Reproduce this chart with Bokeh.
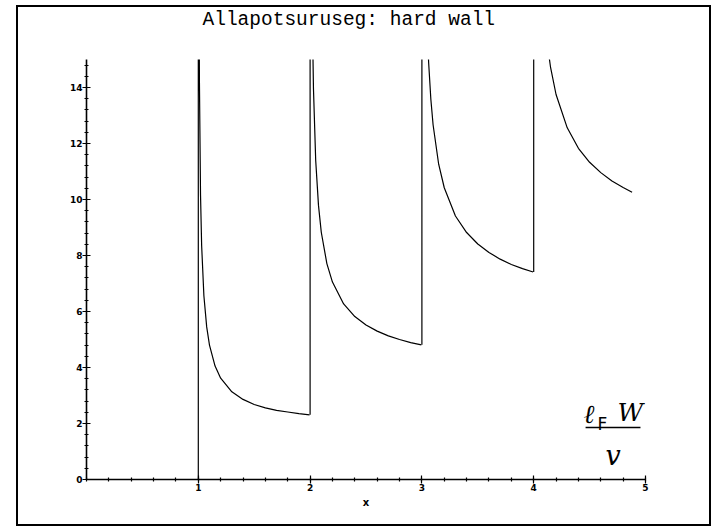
from bokeh.plotting import figure
from bokeh.models import Range1d, FixedTicker, SingleIntervalTicker, Label, BoxAnnotation, Title
from bokeh.embed import file_html
from bokeh.resources import INLINE

# ---- data ----
title_text = "Allapotsuruseg: hard wall"
x_label = "x"
x_tick_values = [1, 2, 3, 4, 5]
y_tick_interval = 2

# each branch starts with the vertical jump at the threshold
x_branch1 = [1.0, 1.0, 1.005, 1.01, 1.02, 1.03, 1.05, 1.075, 1.1, 1.15, 1.2, 1.3, 1.4, 1.5, 1.6, 1.7, 1.8, 1.9, 1.995]
y_branch1 = [0.0, 40.0, 20.08, 14.25, 10.15, 8.35, 6.56, 5.45, 4.80, 4.05, 3.62, 3.13, 2.86, 2.68, 2.56, 2.47, 2.41, 2.35, 2.31]

x_branch2 = [2.0, 2.0, 2.01, 2.02, 2.03, 2.05, 2.075, 2.1, 2.15, 2.2, 2.3, 2.4, 2.5, 2.6, 2.7, 2.8, 2.9, 2.995]
y_branch2 = [2.31, 40.0, 22.38, 16.55, 13.97, 11.40, 9.79, 8.83, 7.71, 7.05, 6.27, 5.82, 5.52, 5.30, 5.13, 5.00, 4.89, 4.81]

x_branch3 = [3.0, 3.0, 3.01, 3.02, 3.04, 3.06, 3.08, 3.1, 3.15, 3.2, 3.3, 3.4, 3.5, 3.6, 3.7, 3.8, 3.9, 3.995]
y_branch3 = [4.81, 40.0, 29.35, 22.20, 17.14, 14.91, 13.58, 12.67, 11.26, 10.42, 9.41, 8.82, 8.41, 8.11, 7.87, 7.68, 7.53, 7.41]

x_branch4 = [4.0, 4.0, 4.1, 4.12, 4.15, 4.2, 4.3, 4.4, 4.5, 4.6, 4.7, 4.8, 4.88]
y_branch4 = [7.41, 40.0, 16.40, 15.61, 14.74, 13.75, 12.56, 11.83, 11.33, 10.96, 10.66, 10.43, 10.26]

branches = [(x_branch1, y_branch1), (x_branch2, y_branch2), (x_branch3, y_branch3), (x_branch4, y_branch4)]

# ---- figure ----
p = figure(width=691, height=517, output_backend="svg", toolbar_location=None,
           x_range=Range1d(0, 5), y_range=Range1d(0, 15),
           min_border_left=68, min_border_right=64, min_border_top=52, min_border_bottom=45,
           background_fill_color="white", border_fill_color="white")
p.margin = (7, 0, 0, 18)
p.styles = {"outline": "2px solid black", "outline-offset": "0px"}
p.outline_line_color = None
p.xgrid.visible = False
p.ygrid.visible = False

# title: a blank spacer next to the frame, then the real title at the top
p.title.text = ""
p.add_layout(Title(text="\u00a0", text_font_size="10px", standoff=14, vertical_align="top"), "above")
p.add_layout(Title(text=title_text, text_font="Liberation Mono", text_font_size="19.5px",
                   text_font_style="normal", text_color="black", align="left", offset=116,
                   standoff=0, vertical_align="top"), "above")

for xs, ys in branches:
    p.line(xs, ys, line_color="black", line_width=1.2)

# axes
p.xaxis.ticker = FixedTicker(ticks=x_tick_values, minor_ticks=[round(0.2 * i, 1) for i in range(26)])
p.yaxis.ticker = SingleIntervalTicker(interval=y_tick_interval, num_minor_ticks=5)
for ax in (p.xaxis, p.yaxis):
    ax.axis_line_color = "black"
    ax.axis_line_width = 1.6
    ax.major_tick_line_color = "black"
    ax.minor_tick_line_color = "black"
    ax.major_tick_in = 4
    ax.major_tick_out = 4
    ax.minor_tick_in = 2
    ax.minor_tick_out = 2
    ax.major_tick_line_width = 1.2
    ax.minor_tick_line_width = 1.2
    ax.major_label_text_font = "DejaVu Sans"
    ax.major_label_text_font_style = "bold"
    ax.major_label_text_font_size = "9px"
    ax.major_label_text_color = "black"
    ax.major_label_standoff = 0
p.xaxis.axis_label = x_label
p.xaxis.axis_label_text_font = "DejaVu Sans"
p.xaxis.axis_label_text_font_style = "bold"
p.xaxis.axis_label_text_font_size = "10px"
p.xaxis.axis_label_text_color = "black"
p.xaxis.axis_label_standoff = 3

# handwritten annotation  l_F W / v
p.add_layout(Label(x=4.446, y=2.357, text="ℓ", text_font="DejaVu Serif", text_font_style="italic",
                   text_font_size="26px", text_baseline="alphabetic", text_color="black"))
p.add_layout(Label(x=4.571, y=2.0, text="F", text_font="DejaVu Sans",
                   text_font_size="17px", text_baseline="alphabetic", text_color="black"))
p.add_layout(Label(x=4.75, y=2.393, text="W", text_font="DejaVu Serif", text_font_style="italic",
                   text_font_size="25px", text_baseline="alphabetic", text_color="black"))
p.add_layout(BoxAnnotation(left=4.464, right=4.955, bottom=1.83, top=1.88,
                           fill_color="black", fill_alpha=1.0, line_color=None))
p.add_layout(Label(x=4.643, y=0.857, text="v", text_font="DejaVu Serif", text_font_style="italic",
                   text_font_size="27px", text_baseline="alphabetic", text_color="black"))

open("out.html", "w").write(file_html(p, INLINE))
